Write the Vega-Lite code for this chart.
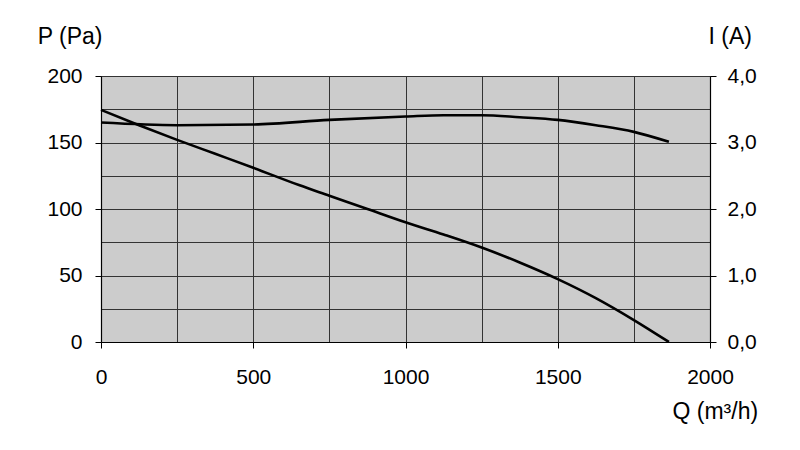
{
  "$schema": "https://vega.github.io/schema/vega-lite/v6.json",
  "width": 609,
  "height": 266,
  "autosize": "none",
  "padding": {"left": 101, "top": 76, "right": 90, "bottom": 108},
  "background": "white",
  "config": {
    "font": "Liberation Sans",
    "view": {"fill": "#CCCCCC", "stroke": null},
    "axis": {
      "labelFont": "Liberation Sans",
      "titleFont": "Liberation Sans",
      "labelFontSize": 21,
      "titleFontSize": 23,
      "titleFontWeight": "normal",
      "labelColor": "black",
      "titleColor": "black",
      "domainColor": "black",
      "domainWidth": 1.2,
      "tickColor": "black",
      "tickWidth": 1,
      "tickSize": 6,
      "gridColor": "#333333",
      "gridWidth": 1,
      "gridOpacity": 1
    }
  },
  "datasets": {
    "P": [
      {"Q": 0, "P": 174.5},
      {"Q": 125, "P": 163},
      {"Q": 250, "P": 152},
      {"Q": 375, "P": 141.5},
      {"Q": 500, "P": 131},
      {"Q": 650, "P": 118},
      {"Q": 750, "P": 110},
      {"Q": 875, "P": 100},
      {"Q": 1000, "P": 90},
      {"Q": 1125, "P": 80.8},
      {"Q": 1250, "P": 71},
      {"Q": 1375, "P": 59.8},
      {"Q": 1500, "P": 47.3},
      {"Q": 1625, "P": 33},
      {"Q": 1750, "P": 16.5},
      {"Q": 1865, "P": 0}
    ],
    "I": [
      {"Q": 0, "I": 3.30},
      {"Q": 250, "I": 3.26},
      {"Q": 500, "I": 3.27},
      {"Q": 750, "I": 3.34},
      {"Q": 1000, "I": 3.39},
      {"Q": 1125, "I": 3.41},
      {"Q": 1250, "I": 3.41},
      {"Q": 1375, "I": 3.38},
      {"Q": 1500, "I": 3.34},
      {"Q": 1625, "I": 3.26},
      {"Q": 1750, "I": 3.16},
      {"Q": 1865, "I": 3.01}
    ]
  },
  "layer": [
    {
      "data": {"name": "P"},
      "mark": {"type": "line", "color": "black", "strokeWidth": 2.6, "interpolate": "monotone"},
      "encoding": {
        "x": {
          "field": "Q",
          "type": "quantitative",
          "scale": {"domain": [0, 2000], "nice": false, "zero": false},
          "axis": {
            "values": [0, 250, 500, 750, 1000, 1250, 1500, 1750, 2000],
            "grid": true,
            "labelExpr": "datum.value % 500 === 0 ? datum.label : ''",
            "tickOpacity": {"expr": "datum.value % 500 === 0 ? 1 : 0"},
            "labelPadding": 18,
            "labelFlush": false,
            "format": "d",
            "title": "Q (m³/h)",
            "titleAnchor": "start",
            "titleAlign": "left",
            "titleBaseline": "alphabetic",
            "titleX": 571,
            "titleY": 76
          }
        },
        "y": {
          "field": "P",
          "type": "quantitative",
          "scale": {"domain": [0, 200], "nice": false},
          "axis": {
            "values": [0, 25, 50, 75, 100, 125, 150, 175, 200],
            "grid": true,
            "labelExpr": "datum.value % 50 === 0 ? datum.label : ''",
            "tickOpacity": {"expr": "datum.value % 50 === 0 ? 1 : 0"},
            "labelPadding": 13,
            "labelFlush": false,
            "title": "P (Pa)",
            "titleAngle": 0,
            "titleAlign": "right",
            "titleBaseline": "alphabetic",
            "titleX": 1,
            "titleY": -33
          }
        }
      }
    },
    {
      "data": {"name": "I"},
      "mark": {"type": "line", "color": "black", "strokeWidth": 2.6, "interpolate": "monotone"},
      "encoding": {
        "x": {"field": "Q", "type": "quantitative"},
        "y": {
          "field": "I",
          "type": "quantitative",
          "scale": {"domain": [0, 4], "nice": false},
          "axis": {
            "orient": "right",
            "values": [0, 1, 2, 3, 4],
            "grid": false,
            "labelExpr": "replace(format(datum.value, '.1f'), '.', ',')",
            "labelPadding": 11,
            "labelFlush": false,
            "title": "I (A)",
            "titleAngle": 0,
            "titleAlign": "left",
            "titleBaseline": "alphabetic",
            "titleX": -2,
            "titleY": -33
          }
        }
      }
    }
  ],
  "resolve": {"scale": {"y": "independent"}}
}
